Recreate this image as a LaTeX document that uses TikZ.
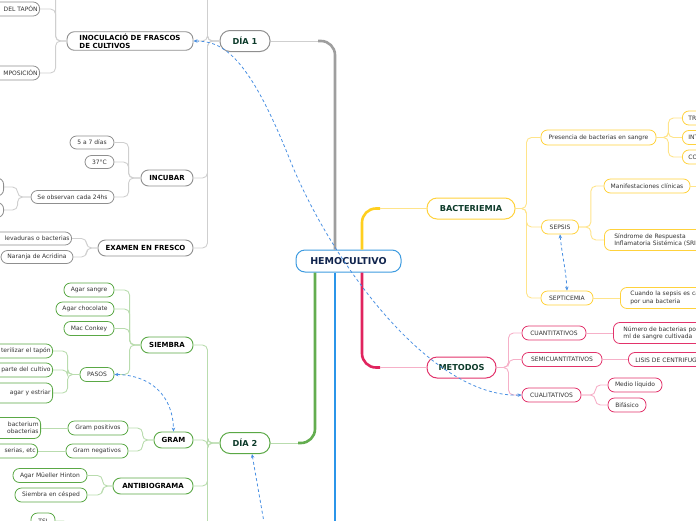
\documentclass[tikz,border=0pt]{standalone}
\usepackage{fontspec}
\setmainfont{DejaVu Sans}
\usetikzlibrary{arrows.meta}

\definecolor{grayedge}{HTML}{8F8F8F}
\definecolor{graytwig}{HTML}{CFCFCF}
\definecolor{graytrunk}{HTML}{9E9E9E}
\definecolor{greenedge}{HTML}{5AA845}
\definecolor{greentwig}{HTML}{B9DCAE}
\definecolor{greentrunk}{HTML}{63AD4F}
\definecolor{yellowedge}{HTML}{FFD23C}
\definecolor{yellowtwig}{HTML}{FFE48A}
\definecolor{yellowtrunk}{HTML}{FFCF1F}
\definecolor{pinkedge}{HTML}{E2336B}
\definecolor{pinktwig}{HTML}{F6B0C8}
\definecolor{pinktrunk}{HTML}{E0245E}
\definecolor{blueedge}{HTML}{3D9BE0}
\definecolor{bluetrunk}{HTML}{2B95E9}
\definecolor{linkblue}{HTML}{4A90E2}
\definecolor{darkgreen}{HTML}{0D3B2A}
\definecolor{navy}{HTML}{10244D}
\definecolor{leaftext}{HTML}{333333}

\tikzset{
  hub/.style={draw=blueedge, line width=1pt, rounded corners=9pt, fill=white, text=navy,
    font=\fontsize{9.5}{11}\selectfont\bfseries, minimum width=105, minimum height=22, inner sep=2},
  branch/.style={draw=#1, line width=1pt, rounded corners=10pt, fill=white, text=darkgreen,
    font=\fontsize{8.2}{9.5}\selectfont\bfseries, minimum height=21, inner sep=2},
  topic/.style={draw=#1, line width=0.9pt, rounded corners=7.5pt, fill=white, text=black,
    font=\fontsize{7}{8}\selectfont\bfseries, minimum height=16, inner sep=2},
  leaf/.style={draw=#1, line width=0.8pt, rounded corners=6.5pt, fill=white, text=leaftext,
    font=\fontsize{6}{7.5}\selectfont, minimum height=14, inner sep=2},
  twig/.style={draw=#1, line width=0.9pt, rounded corners=5pt},
  trunk/.style={draw=#1, line width=2.6pt, rounded corners=14pt},
  link/.style={draw=linkblue, line width=0.8pt, dash pattern=on 3pt off 2.5pt,
    {Stealth[length=4pt,width=3.5pt]}-{Stealth[length=4pt,width=3.5pt]}}
}

\begin{document}
\begin{tikzpicture}[x=1pt,y=-1pt]
\useasboundingbox (0,0) rectangle (696,520);
\clip (0,0) rectangle (696,520);

% centre
\node[hub] (root) at (348.5,261) {HEMOCULTIVO};

% DIA 1
\node[branch=grayedge, minimum width=50] (dia1) at (245,41) {DÍA 1};
\node[topic=grayedge, minimum width=126, align=left] (inoc) at (130,41) {INOCULACIÓ DE FRASCOS\\DE CULTIVOS};
\node[topic=grayedge, minimum width=52] (incub) at (167,178) {INCUBAR};
\node[topic=grayedge, minimum width=95] (exam) at (145.5,248) {EXAMEN EN FRESCO};
\node[leaf=grayedge, anchor=east, text width=70, align=right] (tapon) at (40,9) {DEL TAPÓN};
\node[leaf=grayedge, anchor=east, text width=70, align=right] (compos) at (40,73) {MPOSICIÓN};
\node[leaf=grayedge, minimum width=44, minimum height=13] (cinco) at (92,142.5) {5 a 7 días};
\node[leaf=grayedge, minimum width=29, minimum height=13] (temp) at (99.5,162) {37°C};
\node[leaf=grayedge, minimum width=83, minimum height=13] (obs) at (72.5,197) {Se observan cada 24hs};
\node[leaf=grayedge, anchor=east, minimum width=40, minimum height=18] (obsa) at (4,187) {};
\node[leaf=grayedge, anchor=east, minimum width=40, minimum height=15] (obsb) at (4,210) {};
\node[leaf=grayedge, anchor=east, text width=80, align=right, minimum height=13] (lev) at (72,238.5) {levaduras o bacterias};
\node[leaf=grayedge, minimum width=72, minimum height=13] (naranja) at (37,257) {Naranja de Acridina};
\coordinate (dia1up) at (193,-25);
\coordinate (inocup) at (40,-25);

% DIA 2
\node[branch=greenedge, minimum width=50] (dia2) at (245,443) {DÍA 2};
\node[topic=greenedge, minimum width=52] (siembra) at (167,345) {SIEMBRA};
\node[topic=greenedge, minimum width=39] (gram) at (173.5,440) {GRAM};
\node[topic=greenedge, minimum width=80] (antib) at (153,486) {ANTIBIOGRAMA};
\node[leaf=greenedge, minimum width=50] (sangre) at (89,290) {Agar sangre};
\node[leaf=greenedge, minimum width=58] (choc) at (85,309) {Agar chocolate};
\node[leaf=greenedge, minimum width=50] (mac) at (89,328.5) {Mac Conkey};
\node[leaf=greenedge, minimum width=34] (pasos) at (97,374.5) {PASOS};
\node[leaf=greenedge, anchor=east, text width=70, align=right] (ester) at (53,351) {terilizar el tapón};
\node[leaf=greenedge, anchor=east, text width=70, align=right] (parte) at (53,370) {parte del cultivo};
\node[leaf=greenedge, anchor=east, text width=70, align=right, minimum height=20] (estriar) at (53,393) {agar y estriar};
\node[leaf=greenedge, minimum width=60] (gpos) at (98,428) {Gram positivos};
\node[leaf=greenedge, minimum width=62] (gneg) at (97,451) {Gram negativos};
\node[leaf=greenedge, anchor=east, text width=50, align=right, minimum height=21] (coryn) at (41,428) {bacterium\\obacterias};
\node[leaf=greenedge, anchor=east, text width=50, align=right] (neis) at (38,451) {serias, etc};
\node[leaf=greenedge, minimum width=74] (mueller) at (50,475.5) {Agar Müeller Hinton};
\node[leaf=greenedge, minimum width=72] (cesped) at (51,495) {Siembra en césped};
\node[leaf=greenedge, minimum width=24, minimum height=16] (tsi) at (43,521) {TSI};
\coordinate (dia2dn) at (193,545);
\coordinate (tsidn) at (68,540);

% BACTERIEMIA
\node[branch=yellowedge, minimum width=88] (bact) at (471,208.5) {BACTERIEMIA};
\node[leaf=yellowedge, minimum width=115, minimum height=15] (pres) at (598.5,137.5) {Presencia de bacterias en sangre};
\node[leaf=yellowedge, minimum width=37] (sepsis) at (560,227) {SEPSIS};
\node[leaf=yellowedge, minimum width=52] (septi) at (567,298) {SEPTICEMIA};
\node[leaf=yellowedge, anchor=west, text width=60, align=left, inner xsep=6] (trans) at (682,118) {TRANSITORIA};
\node[leaf=yellowedge, anchor=west, text width=60, align=left, inner xsep=6] (inter) at (682,137.5) {INTERMITENTE};
\node[leaf=yellowedge, anchor=west, text width=60, align=left, inner xsep=6] (cont) at (682,157) {CONTINUA};
\node[leaf=yellowedge, minimum width=86] (manif) at (647,186) {Manifestaciones clínicas};
\node[leaf=yellowedge, anchor=west, text width=110, align=left, inner xsep=10, minimum height=21] (sris) at (604,240) {Síndrome de Respuesta\\Inflamatoria Sistémica (SRIS)};
\node[leaf=yellowedge, anchor=west, text width=110, align=left, inner xsep=10, minimum height=21] (cuando) at (620,298) {Cuando la sepsis es causada\\por una bacteria};
\coordinate (manifr) at (720,186);

% METODOS
\node[branch=pinkedge, minimum width=69] (metodos) at (461.5,367.5) {METODOS};
\node[leaf=pinkedge, minimum width=64] (cuanti) at (554,333) {CUANTITATIVOS};
\node[leaf=pinkedge, minimum width=80] (semi) at (562,359.5) {SEMICUANTITATIVOS};
\node[leaf=pinkedge, minimum width=59] (cuali) at (551.5,395) {CUALITATIVOS};
\node[leaf=pinkedge, anchor=west, text width=110, align=left, inner xsep=10, minimum height=21] (numero) at (613,333) {Número de bacterias por\\ml de sangre cultivada};
\node[leaf=pinkedge, anchor=west, text width=110, align=left, inner xsep=7] (lisis) at (628,359.5) {LISIS DE CENTRIFUGACIÓN};
\node[leaf=pinkedge, minimum width=54] (medio) at (635,385) {Medio líquido};
\node[leaf=pinkedge, minimum width=38] (bifa) at (627,405) {Bifásico};

% trunks
\coordinate (gbend) at (318,41);
\coordinate (grbend) at (298,443);
\coordinate (ybend) at (380,208.5);
\coordinate (pbend) at (380,367.5);
\coordinate (bdown) at (335,540);
\draw[trunk=graytrunk] ([xshift=-13.5]root.north) |- (gbend); \draw[twig=graytwig] (gbend) -- (dia1.east);
\draw[trunk=greentrunk] ([xshift=-33.5]root.south) |- (grbend); \draw[twig=greentwig] (grbend) -- (dia2.east);
\draw[trunk=yellowtrunk] ([xshift=13.5]root.north) |- (ybend); \draw[twig=yellowtwig] (ybend) -- (bact.west);
\draw[trunk=pinktrunk] ([xshift=13.5]root.south) |- (pbend); \draw[twig=pinktwig] (pbend) -- (metodos.west);
\draw[trunk=bluetrunk] ([xshift=-13.5]root.south) -- (bdown);

% twigs, DIA 1
\draw[twig=graytwig] (dia1.west) -- ++(-12,0) |- (dia1up); \draw[twig=graytwig] (dia1.west) -- ++(-12,0) |- (inoc.east);
\draw[twig=graytwig] (dia1.west) -- ++(-12,0) |- (incub.east); \draw[twig=graytwig] (dia1.west) -- ++(-12,0) |- (exam.east);
\draw[twig=graytwig] (inoc.west) -- ++(-11,0) |- (inocup); \draw[twig=graytwig] (inoc.west) -- ++(-11,0) |- (tapon.east);
\draw[twig=graytwig] (inoc.west) -- ++(-11,0) |- (compos.east);
\draw[twig=graytwig] (incub.west) -- ++(-12,0) |- (cinco.east); \draw[twig=graytwig] (incub.west) -- ++(-12,0) |- (temp.east);
\draw[twig=graytwig] (incub.west) -- ++(-12,0) |- (obs.east);
\draw[twig=graytwig] (obs.west) -- ++(-13,0) |- (obsa.east); \draw[twig=graytwig] (obs.west) -- ++(-13,0) |- (obsb.east);
\draw[twig=graytwig] (exam.west) -- ++(-11,0) |- (lev.east); \draw[twig=graytwig] (exam.west) -- ++(-11,0) |- (naranja.east);

% twigs, DIA 2
\draw[twig=greentwig] (dia2.west) -- ++(-12,0) |- (siembra.east); \draw[twig=greentwig] (dia2.west) -- ++(-12,0) |- (gram.east);
\draw[twig=greentwig] (dia2.west) -- ++(-12,0) |- (antib.east); \draw[twig=greentwig] (dia2.west) -- ++(-12,0) |- (dia2dn);
\draw[twig=greentwig] (siembra.west) -- ++(-11,0) |- (sangre.east); \draw[twig=greentwig] (siembra.west) -- ++(-11,0) |- (choc.east);
\draw[twig=greentwig] (siembra.west) -- ++(-11,0) |- (mac.east); \draw[twig=greentwig] (siembra.west) -- ++(-11,0) |- (pasos.east);
\draw[twig=greentwig] (pasos.west) -- ++(-12,0) |- (ester.east); \draw[twig=greentwig] (pasos.west) -- ++(-12,0) |- (parte.east);
\draw[twig=greentwig] (pasos.west) -- ++(-12,0) |- (estriar.east);
\draw[twig=greentwig] (gram.west) -- ++(-11,0) |- (gpos.east); \draw[twig=greentwig] (gram.west) -- ++(-11,0) |- (gneg.east);
\draw[twig=greentwig] (gpos.west) -- (coryn.east); \draw[twig=greentwig] (gneg.west) -- (neis.east);
\draw[twig=greentwig] (antib.west) -- ++(-10,0) |- (mueller.east); \draw[twig=greentwig] (antib.west) -- ++(-10,0) |- (cesped.east);
\draw[twig=greentwig] (tsi.east) -- ++(13,0) |- (tsidn);

% twigs, BACTERIEMIA
\draw[twig=yellowtwig] (bact.east) -- ++(11,0) |- (pres.west); \draw[twig=yellowtwig] (bact.east) -- ++(11,0) |- (sepsis.west);
\draw[twig=yellowtwig] (bact.east) -- ++(11,0) |- (septi.west);
\draw[twig=yellowtwig] (pres.east) -- ++(12,0) |- (trans.west); \draw[twig=yellowtwig] (pres.east) -- ++(12,0) |- (inter.west);
\draw[twig=yellowtwig] (pres.east) -- ++(12,0) |- (cont.west);
\draw[twig=yellowtwig] (sepsis.east) -- ++(12,0) |- (manif.west); \draw[twig=yellowtwig] (sepsis.east) -- ++(12,0) |- (sris.west);
\draw[twig=yellowtwig] (septi.east) -- (cuando.west); \draw[twig=yellowtwig] (manif.east) -- (manifr);

% twigs, METODOS
\draw[twig=pinktwig] (metodos.east) -- ++(12,0) |- (cuanti.west); \draw[twig=pinktwig] (metodos.east) -- ++(12,0) |- (semi.west);
\draw[twig=pinktwig] (metodos.east) -- ++(12,0) |- (cuali.west);
\draw[twig=pinktwig] (cuanti.east) -- (numero.west); \draw[twig=pinktwig] (semi.east) -- (lisis.west);
\draw[twig=pinktwig] (cuali.east) -- ++(14,0) |- (medio.west); \draw[twig=pinktwig] (cuali.east) -- ++(14,0) |- (bifa.west);

% dashed links
\draw[link] (inoc.east) .. controls (225,41) and (250,60) .. (290,160) .. controls (330,260) and (430,398) .. (cuali.west);
\draw[link] (pasos.east) .. controls (150,375) and (173,395) .. (gram.north);
\draw[link] (sepsis.south) .. controls (562,255) and (566,270) .. (septi.north);
\coordinate (dia2lk) at (268,545);
\draw[link, {Stealth[length=4pt,width=3.5pt]}-] ([xshift=7]dia2.south) -- (dia2lk);
\end{tikzpicture}
\end{document}
